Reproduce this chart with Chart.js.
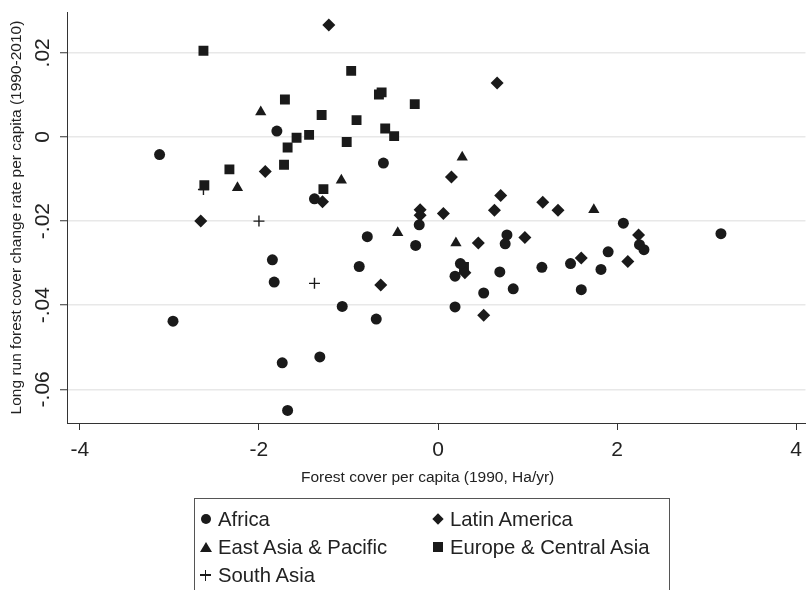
<!DOCTYPE html>
<html>
<head>
<meta charset="utf-8">
<script src="https://cdn.jsdelivr.net/npm/chart.js@4/dist/chart.umd.min.js"></script>
<style>
  body { margin: 0; background: #fff; }
  #wrap { position: relative; width: 806px; height: 590px; overflow: hidden; }
  #legend {
    position: absolute; left: 194px; top: 498px; width: 476px; height: 130px;
    border: 1px solid #555; box-sizing: border-box;
    font-family: 'Liberation Sans', Arial, sans-serif; font-size: 20.3px; color: #222;
    display: grid; grid-template-columns: 232px 1fr; grid-auto-rows: 28px;
    padding: 6px 0 0 5px;
  }
  #legend .item { display: flex; align-items: center; white-space: nowrap; }
  .mk { display: inline-block; width: 12px; height: 12px; margin-right: 6px; position: relative; }
  .mk::before, .mk::after { content: ''; position: absolute; background: #1a1a1a; }
  .circle::before { left: 1px; top: 1px; width: 10px; height: 10px; border-radius: 50%; }
  .diamond::before { left: 2px; top: 2px; width: 8px; height: 8px; transform: rotate(45deg); }
  .square::before { left: 1px; top: 1px; width: 10px; height: 10px; }
  .triangle::before { left: 0; top: 1px; width: 0; height: 0; background: none;
    border-left: 6px solid transparent; border-right: 6px solid transparent; border-bottom: 10px solid #1a1a1a; }
  .plus::before { left: 0; top: 5px; width: 11px; height: 1.5px; }
  .plus::after { left: 4.75px; top: 0.5px; width: 1.5px; height: 11px; }
</style>
</head>
<body>
<div id="wrap">
  <canvas id="scatterChart" width="806" height="590"></canvas>
  <div id="legend">
    <div class="item"><span class="mk circle"></span>Africa</div>
    <div class="item"><span class="mk diamond"></span>Latin America</div>
    <div class="item"><span class="mk triangle"></span>East Asia &amp; Pacific</div>
    <div class="item"><span class="mk square"></span>Europe &amp; Central Asia</div>
    <div class="item"><span class="mk plus"></span>South Asia</div>
  </div>
</div>
<script>
// Forest cover per capita (1990) vs long run change rate, by region
var africaX = [-1.80, -3.11, -0.61, -1.38, -0.21, -0.79, -0.25, -1.85, -0.88, -1.83, -1.07,
  -0.69, -2.96, -1.32, -1.74, -1.68, 2.07, 3.16, 2.25, 2.30, 0.77, 0.75, 1.90, 1.48, 1.16,
  1.82, 0.25, 0.19, 0.69, 0.51, 0.84, 1.60, 0.19];
var africaY = [0.0014, -0.0042, -0.0062, -0.0147, -0.0209, -0.0237, -0.0258, -0.0292, -0.0308,
  -0.0345, -0.0403, -0.0433, -0.0438, -0.0523, -0.0537, -0.0650, -0.0205, -0.0230, -0.0256,
  -0.0268, -0.0233, -0.0254, -0.0273, -0.0301, -0.0310, -0.0315, -0.0301, -0.0331, -0.0321,
  -0.0371, -0.0361, -0.0363, -0.0404];

var latamX = [-1.22, 0.66, -1.93, -1.29, -2.65, -0.20, -0.20, 0.06, 0.15, 0.70, 1.17, 1.34,
  0.63, -0.64, 2.24, 0.45, 0.97, 1.60, 2.12, 0.30, 0.51];
var latamY = [0.0266, 0.0128, -0.0082, -0.0154, -0.0200, -0.0173, -0.0186, -0.0182, -0.0095,
  -0.0139, -0.0155, -0.0174, -0.0174, -0.0352, -0.0233, -0.0252, -0.0239, -0.0288, -0.0296,
  -0.0323, -0.0424];

var eastAsiaX = [-1.98, -1.08, -2.24, 0.27, 1.74, -0.45, 0.20];
var eastAsiaY = [0.0059, -0.0103, -0.0121, -0.0048, -0.0173, -0.0228, -0.0252];

var europeX = [-2.62, -0.97, -0.66, -0.63, -0.26, -1.71, -1.30, -0.91, -0.59, -0.49, -1.44,
  -1.58, -1.02, -1.68, -1.72, -2.33, -2.61, -1.28, 0.29];
var europeY = [0.0205, 0.0157, 0.0101, 0.0106, 0.0078, 0.0089, 0.0052, 0.0040, 0.0020, 0.0002,
  0.0005, -0.0002, -0.0012, -0.0025, -0.0066, -0.0077, -0.0115, -0.0124, -0.0309];

var southAsiaX = [-2.62, -2.00, -1.38];
var southAsiaY = [-0.0125, -0.0200, -0.0348];

var xTickValues = [-4, -2, 0, 2, 4];
var yTickValues = [-0.06, -0.04, -0.02, 0, 0.02];

function pts(xs, ys) {
  return xs.map(function (x, i) { return { x: x, y: ys[i] }; });
}

var ink = '#1a1a1a';
var fontFamily = "'Liberation Sans', Arial, sans-serif";

var ctx = document.getElementById('scatterChart').getContext('2d');
var scatterChart = new Chart(ctx, {
  type: 'scatter',
  data: {
    datasets: [
      { label: 'Africa', data: pts(africaX, africaY), pointStyle: 'circle', pointRadius: 5.5,
        backgroundColor: ink, borderWidth: 0 },
      { label: 'Latin America', data: pts(latamX, latamY), pointStyle: 'rectRot', pointRadius: 6.5,
        backgroundColor: ink, borderWidth: 0 },
      { label: 'East Asia & Pacific', data: pts(eastAsiaX, eastAsiaY), pointStyle: 'triangle', pointRadius: 6.5,
        backgroundColor: ink, borderWidth: 0 },
      { label: 'Europe & Central Asia', data: pts(europeX, europeY), pointStyle: 'rect', pointRadius: 7,
        backgroundColor: ink, borderWidth: 0 },
      { label: 'South Asia', data: pts(southAsiaX, southAsiaY), pointStyle: 'cross', pointRadius: 5.5,
        borderColor: ink, borderWidth: 1.4 }
    ]
  },
  options: {
    responsive: false,
    animation: false,
    events: [],
    layout: { autoPadding: false, padding: { top: 12, right: 0, bottom: 97, left: 0 } },
    plugins: { legend: { display: false }, tooltip: { enabled: false } },
    scales: {
      x: {
        type: 'linear',
        min: -4.144,
        max: 4.104,
        afterFit: function (scale) { scale.height = 70; },
        afterBuildTicks: function (scale) {
          scale.ticks = xTickValues.map(function (v) { return { value: v }; });
        },
        ticks: {
          color: '#222',
          font: { family: fontFamily, size: 21, lineHeight: 1.5 },
          padding: 4,
          maxRotation: 0,
          callback: function (v) { return String(v); }
        },
        grid: { drawOnChartArea: false, drawTicks: true, tickLength: 7, tickColor: '#333', tickWidth: 1 },
        border: { display: true, color: '#333', width: 1 },
        title: {
          display: true,
          text: 'Forest cover per capita (1990, Ha/yr)    ',
          color: '#222',
          font: { family: fontFamily, size: 15.5 },
          padding: { top: 0, bottom: 6 }
        }
      },
      y: {
        type: 'linear',
        min: -0.068,
        max: 0.0297,
        afterFit: function (scale) { scale.width = 67; },
        afterBuildTicks: function (scale) {
          scale.ticks = yTickValues.map(function (v) { return { value: v }; });
        },
        ticks: {
          color: '#222',
          font: { family: fontFamily, size: 21 },
          padding: -1,
          minRotation: 90,
          maxRotation: 90,
          crossAlign: 'center',
          callback: function (v) {
            var s = v.toFixed(2);
            if (s === '0.00' || s === '-0.00') return '0';
            return s.replace('0.', '.');
          }
        },
        grid: { color: '#e8e8e8', lineWidth: 1.5, drawTicks: true, tickLength: 7, tickColor: '#333', tickWidth: 1 },
        border: { display: true, color: '#333', width: 1 },
        title: {
          display: true,
          text: 'Long run forest cover change rate per capita (1990-2010)',
          color: '#222',
          font: { family: fontFamily, size: 15.5 },
          padding: { top: 7, bottom: 0 }
        }
      }
    }
  }
});
</script>
</body>
</html>
